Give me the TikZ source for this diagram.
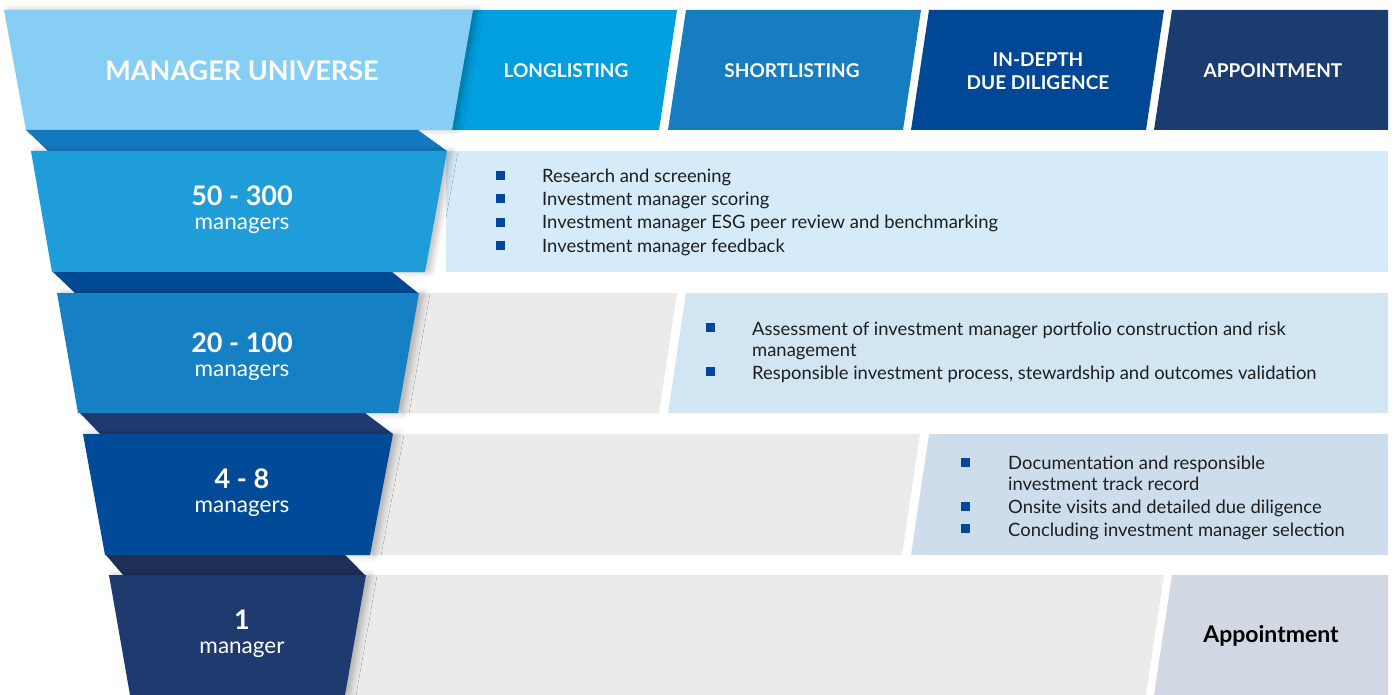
\documentclass[tikz,border=0pt]{standalone}
\usepackage{fontspec}
\setmainfont{Lato}
\usepackage{xcolor}
\usetikzlibrary{shadows.blur}

\definecolor{universe}{HTML}{87CEF4}
\definecolor{longlist}{HTML}{009FE0}
\definecolor{shortlist}{HTML}{177DC1}
\definecolor{indepth}{HTML}{004895}
\definecolor{appoint}{HTML}{1B3C6E}
\definecolor{bandA}{HTML}{1479BF}
\definecolor{boxA}{HTML}{1E9DD9}
\definecolor{bandB}{HTML}{004A94}
\definecolor{boxB}{HTML}{1680C4}
\definecolor{bandC}{HTML}{1F3A6E}
\definecolor{boxC}{HTML}{004A97}
\definecolor{bandD}{HTML}{1E2F5A}
\definecolor{boxD}{HTML}{1F3A6E}
\definecolor{rowA}{HTML}{D5EBF9}
\definecolor{rowB}{HTML}{D2E5F3}
\definecolor{rowC}{HTML}{CDDDEC}
\definecolor{rowD}{HTML}{D1D8E4}
\definecolor{greyrow}{HTML}{EBEBEB}
\definecolor{tickblue}{HTML}{00479B}
\definecolor{ink}{HTML}{1E1E1E}

\begin{document}
\begin{tikzpicture}[x=1pt,y=-1pt,
   body/.style={font=\fontsize{18.4}{21}\selectfont,text=ink,anchor=base west,inner sep=0pt},
   tick/.style={fill=tickblue,minimum width=9pt,minimum height=9pt,inner sep=0pt},
   head/.style={font=\fontsize{19}{23}\selectfont\bfseries,text=white,align=center},
   count/.style={font=\fontsize{22.5}{24}\selectfont,text=white,align=center},
   funnel/.style={blur shadow={shadow xshift=5pt,shadow yshift=0pt,shadow blur radius=6pt,shadow opacity=25}}]

  \useasboundingbox (0,0) rectangle (1394,695);

  \fill[rowA] (446,151) rectangle (1388,272);
  \fill[greyrow] (419,293) -- (677,293) -- (659,413) -- (398,413) -- cycle;
  \fill[rowB] (686,293) -- (1388,293) -- (1388,413) -- (668,413) -- cycle;
  \fill[greyrow] (393,434) -- (920,434) -- (902,555) -- (370,555) -- cycle;
  \fill[rowC] (929,434) -- (1388,434) -- (1388,555) -- (911,555) -- cycle;
  \fill[greyrow] (366,575) -- (1164,575) -- (1146,695) -- (343,695) -- cycle;
  \fill[rowD] (1172,575) -- (1388,575) -- (1388,695) -- (1154,695) -- cycle;

  \fill[longlist] (440,10) -- (677,10) -- (659,130) -- (440,130) -- cycle;
  \fill[shortlist] (686,10) -- (921,10) -- (903,130) -- (668,130) -- cycle;
  \fill[indepth] (929,10) -- (1164,10) -- (1146,130) -- (911,130) -- cycle;
  \fill[appoint] (1172,10) -- (1388,10) -- (1388,130) -- (1154,130) -- cycle;
  \fill[universe,funnel] (4,10) -- (473,10) -- (452,130) -- (26,130) -- cycle;

  \fill[bandA] (26,130) -- (418,130) -- (447,151) -- (48,151) -- cycle;
  \fill[boxA,funnel] (31,151) -- (447,151) -- (425,272) -- (52,272) -- cycle;
  \fill[bandB] (53,272) -- (392,272) -- (418,293) -- (75,293) -- cycle;
  \fill[boxB,funnel] (57,293) -- (419,293) -- (398,413) -- (78,413) -- cycle;
  \fill[bandC] (80,413) -- (365,413) -- (393,434) -- (100,434) -- cycle;
  \fill[boxC,funnel] (83,434) -- (393,434) -- (370,555) -- (105,555) -- cycle;
  \fill[bandD] (106,555) -- (345,555) -- (365,575) -- (123,575) -- cycle;
  \fill[boxD,funnel] (109,575) -- (366,575) -- (345,695) -- (130,695) -- cycle;

  \node[head,font=\fontsize{27}{30}\selectfont\bfseries] (universe) at (242,71) {MANAGER UNIVERSE};
  \node[head] (longlisting) at (566,71) {LONGLISTING};
  \node[head] (shortlisting) at (792,71) {SHORTLISTING};
  \node[head] (indepth) at (1038,71) {IN-DEPTH\\DUE DILIGENCE};
  \node[head] (appointment) at (1273,71) {APPOINTMENT};

  \node[count] (stage1) at (242,210) {{\fontsize{27}{25}\selectfont\bfseries 50 - 300}\\managers};
  \node[count] (stage2) at (242,357) {{\fontsize{27}{25}\selectfont\bfseries 20 - 100}\\managers};
  \node[count] (stage3) at (242,493) {{\fontsize{27}{25}\selectfont\bfseries 4 - 8}\\managers};
  \node[count] (stage4) at (242,634) {{\fontsize{27}{25}\selectfont\bfseries 1}\\manager};

  \foreach \x/\y [count=\i] in {500/176,500/199,500/222,500/245,710/327,710/371,965/462,965/506,965/528}
    \node[tick] (tick\i) at (\x,\y) {};

  \foreach \x/\y/\t [count=\i] in {542/183/Research and screening,
      542/206/Investment manager scoring,
      542/229/Investment manager ESG peer review and benchmarking,
      542/252/Investment manager feedback,
      752/335/Assessment of investment manager portfolio construction and risk,
      752/356/management,
      {752/379/Responsible investment process, stewardship and outcomes validation},
      1008/469/Documentation and responsible,
      1008/490/investment track record,
      1008/513/Onsite visits and detailed due diligence,
      1008/536/Concluding investment manager selection}
    \node[body] (line\i) at (\x,\y) {\t};

  \node[font=\fontsize{23}{26}\selectfont\bfseries,text=black] (appointed) at (1271,636) {Appointment};
\end{tikzpicture}
\end{document}
